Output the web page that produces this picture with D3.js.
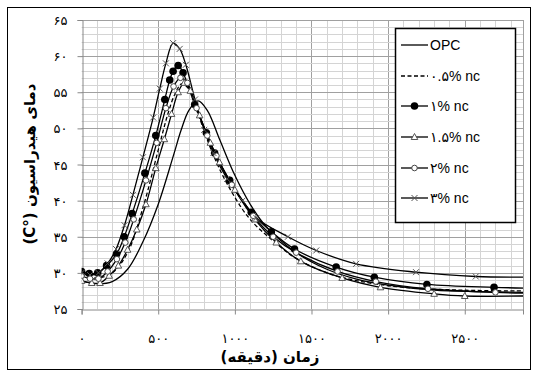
<!DOCTYPE html>
<html><head><meta charset="utf-8">
<script src="https://cdn.jsdelivr.net/npm/d3@7"></script>
<style>body{margin:0;background:#fff}svg{display:block}</style>
</head><body><svg id="c" width="536" height="374"></svg>
<script>
// ---- data ----
const xTicks = [0, 500, 1000, 1500, 2000, 2500];
const yTicks = [25, 30, 35, 40, 45, 50, 55, 60, 65];
const seriesNames = ["OPC", "۰.۵% nc", "۱% nc", "۱.۵% nc", "۲% nc", "۳% nc"];

const opcT = [0,100,200,300,400,500,600,650,700,760,820,900,1000,1100,1200,1400,1600,1800,2000,2300,2600,2880];
const opcV = [28.9,28.5,28.8,30.5,34.3,39.5,46.3,49.8,52.5,53.8,52.5,48.5,43.5,39.5,36.5,32.8,30.5,29.1,28.3,27.6,27.4,27.3];

const nc05T = [0,100,200,300,400,500,560,610,655,700,760,850,950,1100,1292,1400,1600,1800,2100,2500,2880];
const nc05V = [29.8,29.3,30.0,32.8,39.0,47.0,51.8,54.8,56.2,55.4,52.0,46.8,42.3,37.4,33.7,32.0,30.0,28.9,28.0,27.6,27.5];

const nc1T = [0,50,105,163,228,278,330,413,484,543,575,597,630,662,738,814,868,966,1107,1238,1389,1661,1910,2253,2691,2880];
const nc1V = [30.2,29.9,30.0,31.0,32.6,35.0,38.2,43.8,49.0,54.0,56.7,57.9,58.7,57.7,53.3,49.4,46.6,42.8,38.4,35.7,33.3,30.8,29.4,28.4,28.0,27.9];

const nc15T = [0,66,120,180,240,300,360,420,484,540,587,630,670,710,770,840,900,1000,1130,1270,1430,1700,1950,2300,2500,2880];
const nc15V = [28.9,28.6,28.6,29.6,31.0,33.2,36.0,39.5,44.5,48.5,52.0,55.0,56.3,55.2,51.8,48.0,45.3,41.5,37.4,34.2,31.6,29.3,28.0,27.1,26.8,26.8];

const nc2T = [0,55,110,170,230,285,340,420,490,550,600,645,690,750,820,880,980,1120,1250,1400,1670,1920,2260,2700,2880];
const nc2V = [29.6,29.2,29.2,30.2,31.9,34.2,37.4,42.8,48.0,52.8,55.8,57.0,56.3,52.8,49.0,46.2,42.2,37.9,35.0,32.8,30.2,28.8,27.8,27.3,27.2];

const nc3T = [0,55,110,170,225,280,335,400,467,510,550,597,640,680,740,800,860,950,1050,1140,1346,1531,1791,2182,2572,2880];
const nc3V = [30.0,29.7,30.0,31.3,33.3,36.6,40.8,46.0,51.5,55.5,59.0,61.8,61.0,58.8,54.0,49.8,46.6,43.0,40.0,37.6,35.0,33.1,31.25,30.1,29.5,29.4];

const xTitle = "زمان (دقیقه)";
const yTitle = "دمای هیدراسیون (°C)";

// ---- drawing ----
const fa = n => String(n).replace(/\d/g, d => "۰۱۲۳۴۵۶۷۸۹"[d]);
const svg = d3.select("#c");
const L = 81.6, R = 523, T = 20, B = 309;
const x = d3.scaleLinear().domain([0, 2880]).range([L, R]);
const y = d3.scaleLinear().domain([25, 65]).range([B, T]);

svg.append("rect").attr("x", 7.5).attr("y", 7.5).attr("width", 523).attr("height", 362)
  .attr("fill", "#fff").attr("stroke", "#000").attr("stroke-width", 1);

const g = svg.append("g");
g.selectAll(".vx").data(d3.range(100, 2880, 100)).join("line")
  .attr("x1", d => Math.round(x(d)) + 0.5).attr("x2", d => Math.round(x(d)) + 0.5)
  .attr("y1", T).attr("y2", B)
  .attr("stroke", d => d % 500 === 0 ? "#a0a0a0" : "#d4d4d4").attr("stroke-width", 1);
g.selectAll(".hy").data(d3.range(26, 66, 1)).join("line")
  .attr("y1", d => Math.round(y(d)) + 0.5).attr("y2", d => Math.round(y(d)) + 0.5)
  .attr("x1", L).attr("x2", R)
  .attr("stroke", d => d % 5 === 0 ? "#a0a0a0" : "#d4d4d4").attr("stroke-width", 1);
g.append("line").attr("x1", R + 0.5).attr("x2", R + 0.5).attr("y1", T).attr("y2", B + 5)
  .attr("stroke", "#a0a0a0");

const xa = svg.append("g").attr("transform", `translate(0,${Math.round(B) + 0.5})`)
  .call(d3.axisBottom(x).tickValues(xTicks).tickSize(5).tickFormat(fa));
const ya = svg.append("g").attr("transform", `translate(${Math.round(L) + 0.5},0)`)
  .call(d3.axisLeft(y).tickValues(yTicks).tickSize(5).tickFormat(fa));
[xa, ya].forEach(a => {
  a.select(".domain").attr("stroke", "#888");
  a.selectAll(".tick line").attr("stroke", "#888");
  a.selectAll("text").attr("font-family", "DejaVu Sans, sans-serif").attr("font-size", 13).attr("fill", "#000");
});
xa.selectAll("text").attr("dy", null).attr("y", 33);
ya.selectAll("text").attr("x", -15).attr("dy", "0.35em");

svg.append("text").attr("x", 270).attr("y", 362).attr("text-anchor", "middle")
  .attr("font-family", "DejaVu Sans, sans-serif").attr("font-weight", "bold").attr("font-size", 15)
  .attr("direction", "rtl").text(xTitle);
svg.append("text").attr("transform", "translate(35,164) rotate(-90)").attr("text-anchor", "middle")
  .attr("font-family", "DejaVu Sans, sans-serif").attr("font-weight", "bold").attr("font-size", 15)
  .attr("direction", "rtl").text(yTitle);

svg.append("clipPath").attr("id", "pc").append("rect").attr("x", L).attr("y", T - 10).attr("width", R - L).attr("height", B - T + 10);

const series = [
  {t: opcT, v: opcV, dash: null, mk: null},
  {t: nc05T, v: nc05V, dash: "4,2.5", mk: null},
  {t: nc1T, v: nc1V, dash: null, mk: "dot"},
  {t: nc15T, v: nc15V, dash: null, mk: "tri"},
  {t: nc2T, v: nc2V, dash: null, mk: "circ"},
  {t: nc3T, v: nc3V, dash: null, mk: "x"}
];
const line = d3.line().x(d => x(d[0])).y(d => y(d[1])).curve(d3.curveCatmullRom.alpha(0.5));
const pg = svg.append("g").attr("clip-path", "url(#pc)");

function marker(sel, type, cx, cy) {
  if (type === "dot") sel.append("circle").attr("cx", cx).attr("cy", cy).attr("r", 3.8).attr("fill", "#000");
  else if (type === "circ") sel.append("circle").attr("cx", cx).attr("cy", cy).attr("r", 2.8).attr("fill", "#fff").attr("stroke", "#444").attr("stroke-width", 1);
  else if (type === "tri") sel.append("path").attr("d", `M${cx},${cy - 3.5}L${cx + 3.3},${cy + 2.5}L${cx - 3.3},${cy + 2.5}Z`).attr("fill", "#fff").attr("stroke", "#444").attr("stroke-width", 0.9);
  else if (type === "x") sel.append("path").attr("d", `M${cx - 3},${cy - 3}L${cx + 3},${cy + 3}M${cx - 3},${cy + 3}L${cx + 3},${cy - 3}`).attr("stroke", "#555").attr("stroke-width", 1);
}

series.forEach(s => {
  const pts = s.t.map((t, i) => [t, s.v[i]]);
  pg.append("path").datum(pts).attr("d", line).attr("fill", "none").attr("stroke", "#000")
    .attr("stroke-width", 1.3).attr("stroke-dasharray", s.dash);
});
series.forEach(s => {
  if (!s.mk) return;
  const mg = pg.append("g");
  s.t.forEach((t, i) => { if (t < 2880) marker(mg, s.mk, x(t), y(s.v[i])); });
});

const lg = svg.append("g");
lg.append("rect").attr("x", 395.5).attr("y", 28.5).attr("width", 120).attr("height", 194)
  .attr("fill", "#fff").attr("stroke", "#000").attr("stroke-width", 1.5);
const ly = [45, 76, 106, 137, 168, 198];
series.forEach((s, i) => {
  lg.append("line").attr("x1", 401).attr("x2", 428).attr("y1", ly[i]).attr("y2", ly[i])
    .attr("stroke", "#000").attr("stroke-width", 1.3).attr("stroke-dasharray", s.dash);
  if (s.mk) marker(lg, s.mk, 414.5, ly[i]);
  lg.append("text").attr("x", 430).attr("y", ly[i]).attr("dy", "0.35em")
    .attr("font-family", "Liberation Sans, Arial, DejaVu Sans, sans-serif").attr("font-size", 14)
    .attr("direction", "ltr").text(seriesNames[i]);
});
</script></body></html>
